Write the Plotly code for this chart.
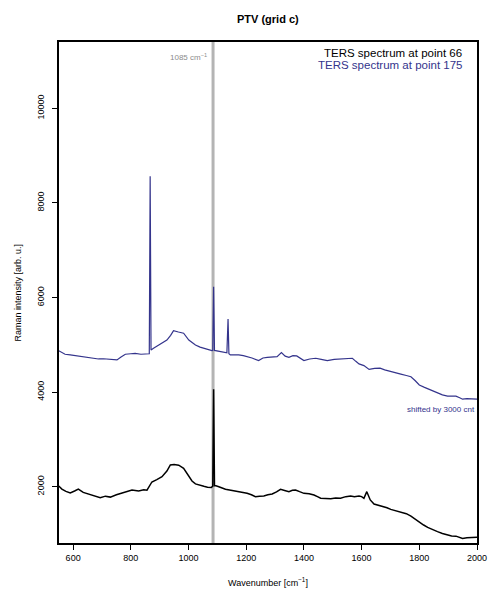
import plotly.graph_objects as go

# ---- data ----
wn_66 = [550, 561, 575, 590, 605, 618, 635, 653, 675, 694, 712, 729, 750, 769, 787, 804,
         827, 845, 856, 873, 890, 908, 925, 937, 950, 966, 983, 1001, 1012, 1024, 1040,
         1053, 1066, 1079, 1084, 1087, 1090, 1095, 1105, 1116, 1128, 1142, 1157, 1170, 1180,
         1192, 1203, 1218, 1232, 1246, 1261, 1275, 1290, 1305, 1319, 1333, 1348, 1360,
         1371, 1385, 1400, 1418, 1435, 1447, 1458, 1475, 1493, 1510, 1527, 1545, 1562,
         1575, 1591, 1600, 1608, 1618, 1624, 1630, 1643, 1658, 1672, 1688, 1701, 1718,
         1736, 1755, 1771, 1786, 1800, 1815, 1829, 1846, 1863, 1880, 1898, 1912, 1927,
         1940, 1950, 1965, 1979, 1990, 2000]
int_66 = [2015, 1950, 1900, 1870, 1910, 1950, 1880, 1840, 1800, 1765, 1800, 1780, 1830, 1860,
          1900, 1930, 1910, 1935, 1925, 2100, 2150, 2210, 2330, 2460, 2470, 2455, 2390, 2210,
          2120, 2060, 2040, 2010, 1990, 1985, 2010, 4060, 2020, 2020, 2000, 1975, 1945, 1930,
          1915, 1905, 1890, 1880, 1860, 1830, 1790, 1800, 1805, 1830, 1845, 1890, 1945, 1920,
          1895, 1925, 1930, 1895, 1860, 1850, 1825, 1790, 1755, 1750, 1745, 1760, 1755, 1790,
          1805, 1790, 1805, 1790, 1755, 1895, 1800, 1720, 1635, 1610, 1590, 1555, 1520, 1495,
          1470, 1430, 1380, 1310, 1260, 1190, 1140, 1090, 1050, 1010, 980, 960, 955, 930, 905,
          920, 930, 925, 930]

wn_175 = [550, 561, 572, 590, 607, 625, 642, 665, 688, 705, 723, 740, 752, 766, 781, 800,
          815, 835, 850, 864, 867, 870, 880, 896, 910, 925, 938, 948, 965, 983, 1001, 1012,
          1024, 1040, 1058, 1070, 1081, 1084, 1087, 1090, 1100, 1122, 1133, 1137, 1140, 1145,
          1160, 1174, 1190, 1203, 1220, 1243, 1258, 1273, 1290, 1307, 1322, 1335, 1348, 1362,
          1375, 1388, 1400, 1420, 1441, 1460, 1481, 1505, 1527, 1548, 1568, 1580, 1591, 1608,
          1626, 1645, 1664, 1680, 1701, 1718, 1736, 1755, 1771, 1786, 1800, 1818, 1834, 1850,
          1863, 1880, 1898, 1912, 1927, 1940, 1950, 1965, 1979, 1990, 2000]
int_175 = [1875, 1840, 1800, 1785, 1770, 1760, 1735, 1720, 1700, 1705, 1695, 1690, 1680, 1740,
           1800, 1810, 1820, 1800, 1805, 1810, 5560, 1890, 1930, 1995, 2040, 2100, 2200, 2300,
           2270, 2245, 2100, 2040, 1995, 1950, 1910, 1890, 1875, 1880, 3225, 1880, 1870, 1835,
           1830, 2545, 1810, 1785, 1790, 1785, 1770, 1750, 1720, 1665, 1720, 1735, 1740, 1750,
           1835, 1760, 1735, 1770, 1765, 1720, 1665, 1700, 1715, 1690, 1665, 1690, 1695, 1700,
           1715, 1650, 1595, 1560, 1480, 1500, 1505, 1470, 1430, 1410, 1380, 1350, 1325, 1240,
           1150, 1100, 1060, 1010, 975, 940, 915, 920, 915, 880, 850, 860, 855, 850, 850]

shift_175 = 3000
marker_wn = 1085
x_ticks = [600, 800, 1000, 1200, 1400, 1600, 1800, 2000]
y_ticks = [2000, 4000, 6000, 8000, 10000]
x_range = [551, 2000]
y_range = [810, 11400]

BLUE = "#34348C"
FONT = "Liberation Sans, Arial, sans-serif"

fig = go.Figure()
fig.add_trace(go.Scatter(x=wn_66, y=int_66, mode="lines",
                         line=dict(color="black", width=1.5), showlegend=False))
fig.add_trace(go.Scatter(x=wn_175, y=[v + shift_175 for v in int_175], mode="lines",
                         line=dict(color=BLUE, width=1.2), showlegend=False))

fig.add_shape(type="line", xref="x", yref="paper", x0=marker_wn, x1=marker_wn, y0=0, y1=1,
              line=dict(color="#B4B4B4", width=3), layer="below")

ann = []
ann.append(dict(text="<b>PTV (grid c)</b>", xref="paper", yref="paper", x=0.5, y=1.0,
                yshift=15, yanchor="bottom", showarrow=False,
                font=dict(size=11, color="black", family=FONT)))
ann.append(dict(text="1085 cm<sup>−1</sup>", xref="x", yref="paper", x=marker_wn,
                xshift=-4, y=1.0, yshift=-15, xanchor="right", yanchor="middle",
                showarrow=False, font=dict(size=8, color="#8C8C8C", family=FONT)))
ann.append(dict(text="TERS spectrum at point 66", xref="paper", yref="paper", x=1.0,
                xshift=-13, y=1.0, yshift=-11, xanchor="right", yanchor="middle",
                showarrow=False, font=dict(size=11.5, color="black", family=FONT)))
ann.append(dict(text="TERS spectrum at point 175", xref="paper", yref="paper", x=1.0,
                xshift=-13, y=1.0, yshift=-23, xanchor="right", yanchor="middle",
                showarrow=False, font=dict(size=11.5, color=BLUE, family=FONT)))
ann.append(dict(text="shifted by 3000 cnt", xref="paper", yref="y", x=1.0,
                y=int_175[-1] + shift_175, yshift=-10, xanchor="right", yanchor="middle",
                showarrow=False, font=dict(size=8, color=BLUE, family=FONT)))
ann.append(dict(text="Wavenumber [cm<sup>−1</sup>]", xref="paper", yref="paper", x=0.5,
                y=0, yshift=-39, yanchor="middle", showarrow=False,
                font=dict(size=9, color="black", family=FONT)))
ann.append(dict(text="Raman intensity [arb. u.]", xref="paper", yref="paper", x=0,
                xshift=-42, y=0.5, xanchor="center", yanchor="middle", textangle=-90,
                showarrow=False, font=dict(size=9, color="black", family=FONT)))

fig.update_layout(
    width=490, height=591, autosize=False,
    margin=dict(l=59, r=13, t=42, b=48),
    paper_bgcolor="white", plot_bgcolor="white",
    font=dict(family=FONT, size=9, color="black"),
    annotations=ann,
    xaxis=dict(range=x_range, tickvals=x_ticks, ticks="outside", ticklen=5, tickwidth=1,
               tickcolor="black", showline=True, linecolor="black", linewidth=1.5,
               mirror=True, showgrid=False, zeroline=False, automargin=False,
               ticklabeloverflow="allow",
               tickfont=dict(size=9, family=FONT, color="black")),
    yaxis=dict(range=y_range, tickvals=y_ticks, ticks="outside", ticklen=5, tickwidth=1,
               tickcolor="black", showline=True, linecolor="black", linewidth=1.5,
               mirror=True, showgrid=False, zeroline=False, tickangle=-90, tickformat="d",
               automargin=False, ticklabeloverflow="allow", ticklabelstandoff=5,
               tickfont=dict(size=9, family=FONT, color="black")),
)

fig.write_html("out.html",
               config={"displayModeBar": False, "responsive": False},
               post_script="document.body.style.margin='0px';document.body.style.overflow='hidden';")
